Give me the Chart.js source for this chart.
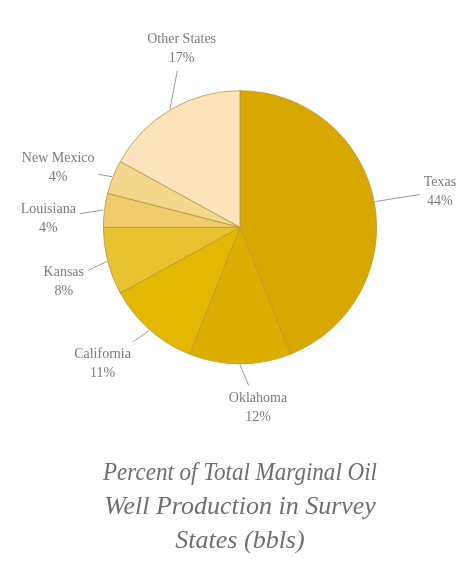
<!DOCTYPE html>
<html>
<head>
<meta charset="utf-8">
<script src="https://cdn.jsdelivr.net/npm/chart.js@4"></script>
<style>
  html, body { margin: 0; padding: 0; background: #fff; }
  #wrap { width: 463px; height: 566px; }
</style>
</head>
<body>
<div id="wrap"><canvas id="chart" width="463" height="566"></canvas></div>
<script>
// data, clockwise from 12 o'clock
const states = ['Texas', 'Oklahoma', 'California', 'Kansas', 'Louisiana', 'New Mexico', 'Other States'];
const shares = [44, 12, 11, 8, 4, 4, 17];
const sliceColors = ['#d9a800', '#ddae00', '#e4b800', '#e9c232', '#f0cd6c', '#f3d78c', '#fbe3bc'];

const titleLines = ['Percent of Total Marginal Oil', 'Well Production in Survey', 'States (bbls)'];

// small nudges so labels sit where the original put them
const labelShift = [[12, 0], [18, -11], [-11, -7], [9, 7], [-2, 15], [-4, 11], [39, -14]];

const textGrey = '#7b7b7b';

const sliceLabels = {
    id: 'sliceLabels',
    afterDraw(chart) {
        const ctx = chart.ctx;
        const arcs = chart.getDatasetMeta(0).data;
        ctx.save();
        ctx.font = '14px "Liberation Serif", "DejaVu Serif", serif';
        ctx.fillStyle = textGrey;
        ctx.strokeStyle = '#9a9a9a';
        ctx.lineWidth = 1;
        ctx.textAlign = 'center';
        ctx.textBaseline = 'middle';
        arcs.forEach((arc, i) => {
            const { x, y, startAngle, endAngle, outerRadius } = arc.getProps(['x', 'y', 'startAngle', 'endAngle', 'outerRadius'], true);
            const mid = (startAngle + endAngle) / 2;
            const cx = x + Math.cos(mid) * outerRadius * 1.4 + labelShift[i][0];
            const cy = y + Math.sin(mid) * outerRadius * 1.4 + labelShift[i][1];
            const l1 = states[i];
            const l2 = shares[i] + '%';
            const w = Math.max(ctx.measureText(l1).width, ctx.measureText(l2).width) / 2 + 4;
            const h = 22;
            // leader line from edge of slice to the label box
            const ex = x + Math.cos(mid) * (outerRadius + 1);
            const ey = y + Math.sin(mid) * (outerRadius + 1);
            const dx = ex - cx, dy = ey - cy;
            const t = Math.min(Math.abs(w / (dx || 1e-6)), Math.abs(h / (dy || 1e-6)));
            ctx.beginPath();
            ctx.moveTo(ex, ey);
            ctx.lineTo(cx + dx * t, cy + dy * t);
            ctx.stroke();
            ctx.fillText(l1, cx, cy - 9.5);
            ctx.fillText(l2, cx, cy + 9.5);
        });
        ctx.restore();
    }
};

new Chart(document.getElementById('chart'), {
    type: 'pie',
    data: {
        labels: states,
        datasets: [{
            data: shares,
            backgroundColor: sliceColors,
            borderColor: '#b8973c',
            borderWidth: 0.8
        }]
    },
    options: {
        responsive: false,
        animation: false,
        events: [],
        layout: { padding: { left: 103, right: 86, top: 90, bottom: 8 } },
        plugins: {
            legend: { display: false },
            tooltip: { enabled: false },
            title: {
                display: true,
                position: 'bottom',
                text: titleLines,
                color: '#6f6f6f',
                font: { family: '"Liberation Serif", "DejaVu Serif", serif', size: 26, style: 'italic', weight: 'normal', lineHeight: 1.3 },
                padding: { top: 92, bottom: 0 }
            }
        }
    },
    plugins: [sliceLabels]
});
</script>
</body>
</html>
